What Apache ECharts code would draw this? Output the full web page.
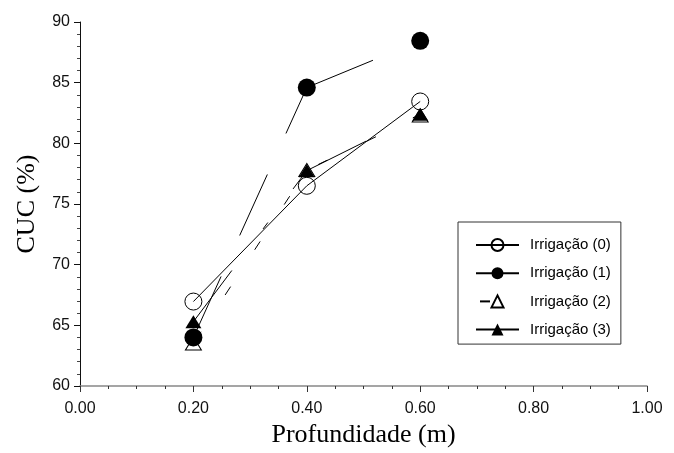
<!DOCTYPE html>
<html>
<head>
<meta charset="utf-8">
<script src="https://cdn.jsdelivr.net/npm/echarts@6/dist/echarts.min.js"></script>
<style>
	html, body { margin: 0; padding: 0; background: #fff; }
	#main { width: 674px; height: 453px; }
</style>
</head>
<body>
<div id="main"></div>
<script>
// profundidade (m)
var depths = [0.2, 0.4, 0.6];
// CUC (%) por irrigação
var irr0 = [66.96, 76.5, 83.45];
var irr1 = [64.0, 84.6, 88.45];
var irr2 = [63.5, 77.8, 82.3];
var irr3 = [65.3, 77.75, 82.4];
var names = ['Irrigação (0)', 'Irrigação (1)', 'Irrigação (2)', 'Irrigação (3)'];

function pts(vals) {
	return depths.map(function(d, i) { return [d, vals[i]]; });
}

var myChart = echarts.init(document.getElementById('main'), null, { renderer: 'canvas' });

var sans = 'Liberation Sans, Arial, sans-serif',
	serif = 'Liberation Serif, Times New Roman, serif';

var option = {
	animation: false,
	backgroundColor: '#fff',
	grid: { left: 80, right: 27, top: 22, bottom: 60 },
	legend: {
		orient: 'vertical',
		left: 458,
		top: 222,
		data: names,
		padding: [15.5, 10, 7, 17],
		itemWidth: 43,
		itemHeight: 15,
		itemGap: 13.2,
		borderColor: '#333',
		borderWidth: 1,
		backgroundColor: '#fff',
		textStyle: { fontFamily: sans, fontSize: 15, color: '#000', lineHeight: 15, padding: [0, 0, 0, 6] }
	},
	xAxis: {
		type: 'value',
		min: 0,
		max: 1,
		interval: 0.2,
		name: 'Profundidade (m)',
		nameLocation: 'middle',
		nameGap: 36,
		nameTextStyle: { fontFamily: serif, fontSize: 26, color: '#000' },
		axisLine: { lineStyle: { color: '#888', width: 1.5 } },
		axisTick: { length: 6, lineStyle: { color: '#333' } },
		minorTick: { show: true, splitNumber: 4, length: 3, lineStyle: { color: '#333' } },
		splitLine: { show: false },
		axisLabel: {
			margin: 15, fontFamily: sans, fontSize: 16, color: '#111',
			formatter: function(v) { return v.toFixed(2); }
		}
	},
	yAxis: {
		type: 'value',
		min: 60,
		max: 90,
		interval: 5,
		name: 'CUC (%)',
		nameLocation: 'middle',
		nameGap: 40,
		nameTextStyle: { fontFamily: serif, fontSize: 26, color: '#000' },
		axisLine: { show: true, lineStyle: { color: '#111', width: 1 } },
		axisTick: { show: true, length: 6, lineStyle: { color: '#111' } },
		minorTick: { show: true, splitNumber: 5, length: 3, lineStyle: { color: '#444' } },
		splitLine: { show: false },
		axisLabel: { margin: 10, fontFamily: sans, fontSize: 16, color: '#111' }
	},
	series: [{
			name: names[0],
			type: 'line',
			data: pts(irr0),
			symbol: 'circle',
			symbolSize: 17,
			itemStyle: { color: 'rgba(0,0,0,0)', borderColor: '#000', borderWidth: 1 },
			lineStyle: { color: '#000', width: 1 }
		},
		{
			name: names[1],
			type: 'line',
			z: 3,
			data: pts(irr1),
			symbol: 'circle',
			symbolSize: 18,
			itemStyle: { color: '#000', borderColor: '#000', borderWidth: 0 },
			lineStyle: { color: '#000', width: 1, type: [67, 45, 67, 45, 122, 57] }
		},
		{
			name: names[2],
			type: 'line',
			data: pts(irr2),
			symbol: 'triangle',
			symbolSize: [16, 13],
			itemStyle: { color: 'rgba(0,0,0,0)', borderColor: '#000', borderWidth: 1 },
			lineStyle: { color: '#000', width: 1, type: [10, 44], dashOffset: 50 }
		},
		{
			name: names[3],
			type: 'line',
			data: pts(irr3),
			symbol: 'triangle',
			symbolSize: [16, 13],
			itemStyle: { color: '#000', borderColor: '#000', borderWidth: 0 },
			lineStyle: { color: '#000', width: 1, type: [89.3, 52, 8, 42], dashOffset: 25.3 }
		}
	]
};

myChart.setOption(option);
</script>
</body>
</html>
